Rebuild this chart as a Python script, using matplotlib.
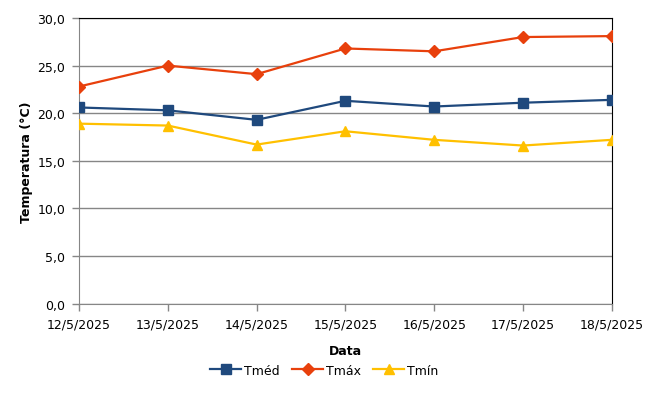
import matplotlib
matplotlib.use("Agg")
import matplotlib.pyplot as plt

dates = ["12/5/2025", "13/5/2025", "14/5/2025", "15/5/2025", "16/5/2025", "17/5/2025", "18/5/2025"]
tmed = [20.6, 20.3, 19.3, 21.3, 20.7, 21.1, 21.4]
tmax = [22.8, 25.0, 24.1, 26.8, 26.5, 28.0, 28.1]
tmin = [18.9, 18.7, 16.7, 18.1, 17.2, 16.6, 17.2]
yticks = [0, 5, 10, 15, 20, 25, 30]

plt.rcParams['font.family'] = ['DejaVu Sans']
fig = plt.figure(figsize=(6.55, 4.02), dpi=100)
ax = fig.add_axes([0.1206, 0.2425, 0.8134, 0.7102])

x = list(range(len(dates)))
ax.plot(x, tmed, color="#1F497D", lw=1.6, marker="s", ms=6.5, label="Tméd", zorder=3)
ax.plot(x, tmax, color="#E8400C", lw=1.6, marker="D", ms=6, label="Tmáx", zorder=3)
ax.plot(x, tmin, color="#FFC000", lw=1.6, marker="^", ms=7, label="Tmín", zorder=3)

ax.set_xlim(0, len(dates) - 1)
ax.set_ylim(0, 30)
ax.set_yticks(yticks)
ax.set_yticklabels([f"{v:.1f}".replace(".", ",") for v in yticks], fontsize=9)
ax.set_xticks(x)
ax.set_xticklabels(dates, fontsize=9)
ax.grid(axis="y", color="#868686", lw=1)
ax.set_axisbelow(True)
for s in ["left", "bottom"]:
    ax.spines[s].set_color("#868686")
for s in ["top", "right"]:
    ax.spines[s].set_color("black")
ax.tick_params(axis="both", color="#868686", length=5, width=1, direction="out", pad=5)

ax.set_xlabel("Data", fontsize=9, fontweight="bold", labelpad=10)
ax.set_ylabel("Temperatura (°C)", fontsize=9, fontweight="bold", labelpad=3)

ax.legend(loc="upper center", bbox_to_anchor=(0.46, -0.172), ncol=3, frameon=False,
          fontsize=9, handlelength=2.5, columnspacing=1.0, handletextpad=0.2)

fig.savefig("out.png", dpi=100)
